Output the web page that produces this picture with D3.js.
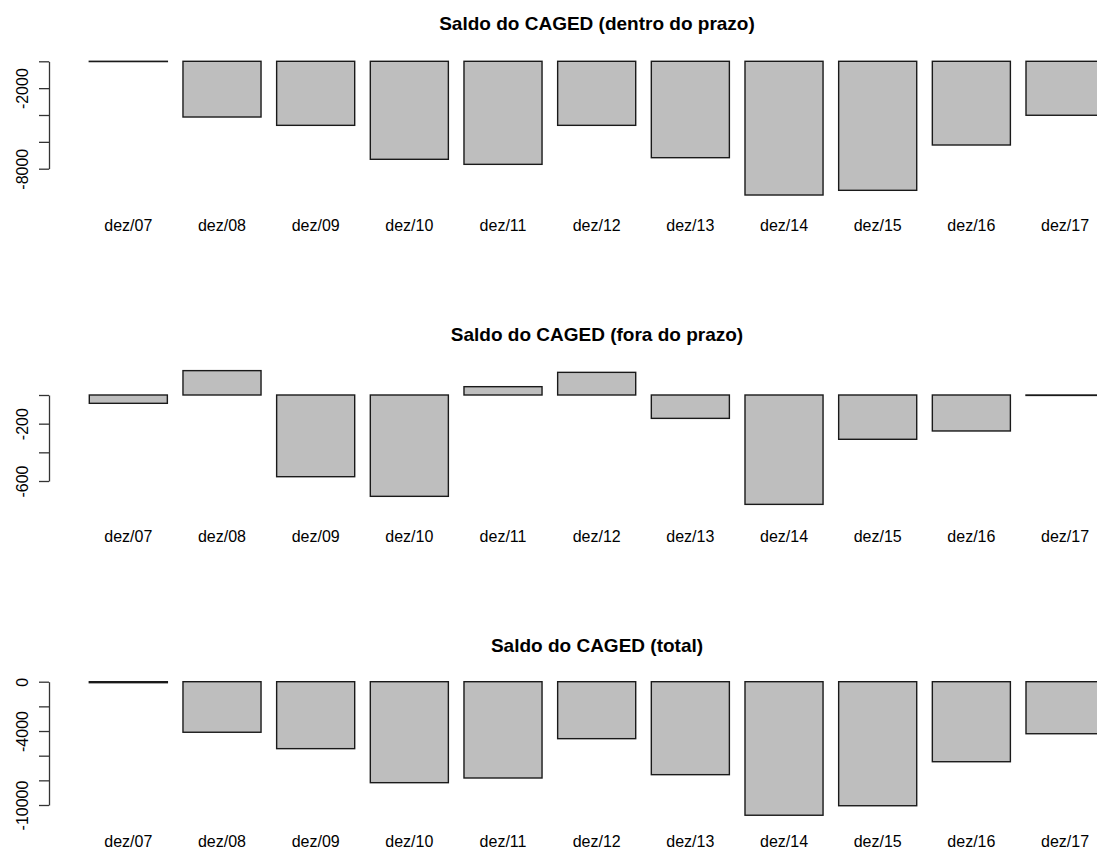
<!DOCTYPE html>
<html lang="pt">
<head>
<meta charset="utf-8">
<title>Saldo do CAGED</title>
<script src="https://cdn.jsdelivr.net/npm/d3@7"></script>
<style>
  body { margin: 0; background: #fff; }
  svg { display: block; font-family: "Liberation Sans", Arial, sans-serif; }
  .bar { fill: #bebebe; stroke: #1a1a1a; stroke-width: 1.4px; }
  .axis path, .axis line { stroke: #333; stroke-width: 1.3px; }
  .axis text { font-size: 16px; fill: #000; }
  .xlab { font-size: 16px; fill: #000; text-anchor: middle; }
  .title { font-size: 19px; font-weight: bold; text-anchor: middle; }
</style>
</head>
<body>
<div id="chart"></div>
<script>
// data
var categories = ["dez/07", "dez/08", "dez/09", "dez/10", "dez/11", "dez/12",
                  "dez/13", "dez/14", "dez/15", "dez/16", "dez/17"];
var dentroPrazo = [-20, -4150, -4770, -7300, -7675, -4770, -7180, -9960, -9610, -6235, -4020];
var foraPrazo = [-58, 170, -570, -707, 58, 158, -163, -763, -309, -251, -3];
var total = [-80, -4100, -5430, -8190, -7810, -4620, -7540, -10830, -10060, -6490, -4220];

var titles = ["Saldo do CAGED (dentro do prazo)", "Saldo do CAGED (fora do prazo)", "Saldo do CAGED (total)"];
var ticks1 = [0, -2000, -4000, -6000, -8000];
var tickLabels1 = ["", "-2000", "", "", "-8000"];
var ticks2 = [0, -200, -400, -600];
var tickLabels2 = ["", "-200", "", "-600"];
var ticks3 = [0, -2000, -4000, -6000, -8000, -10000];
var tickLabels3 = ["0", "", "-4000", "", "", "-10000"];

var width = 1097, height = 851;
var axisX = 49;

// pixel layout of each panel (scale ends, title and label baselines)
var layout = [
  { lo: -8000,  yLo: 168.7, yZero: 61.3,  titleY: 30,  labelY: 231 },
  { lo: -600,   yLo: 481,   yZero: 395,   titleY: 341, labelY: 541.5 },
  { lo: -10000, yLo: 805,   yZero: 681.7, titleY: 652, labelY: 846.5 }
];

var panels = [
  { values: dentroPrazo, ticks: ticks1, labels: tickLabels1 },
  { values: foraPrazo,   ticks: ticks2, labels: tickLabels2 },
  { values: total,       ticks: ticks3, labels: tickLabels3 }
];

var svg = d3.select("#chart").append("svg")
    .attr("width", width)
    .attr("height", height);

// R barplot: width 1, space 0.2 -> step 93.67px, bars start at 89.3
var step = 93.67;
var x = d3.scaleBand()
    .domain(categories)
    .range([89.3 - step / 12, 89.3 - step / 12 + step * categories.length])
    .paddingInner(1 / 6)
    .paddingOuter(1 / 12);

panels.forEach(function(p, i) {
  var L = layout[i];
  var y = d3.scaleLinear().domain([L.lo, 0]).range([L.yLo, L.yZero]);
  var g = svg.append("g");

  g.append("text")
    .attr("class", "title")
    .attr("x", 597)
    .attr("y", L.titleY)
    .text(titles[i]);

  g.selectAll("rect")
    .data(p.values)
    .enter().append("rect")
    .attr("class", "bar")
    .attr("x", function(d, j) { return x(categories[j]); })
    .attr("width", x.bandwidth())
    .attr("y", function(d) { return y(Math.max(0, d)); })
    .attr("height", function(d) { return Math.abs(y(d) - y(0)); });

  g.selectAll(".xlab")
    .data(categories)
    .enter().append("text")
    .attr("class", "xlab")
    .attr("x", function(d) { return x(d) + x.bandwidth() / 2; })
    .attr("y", L.labelY)
    .text(function(d) { return d; });

  var yAxis = d3.axisLeft(y)
    .tickValues(p.ticks)
    .tickSize(10)
    .tickSizeOuter(0)
    .tickFormat(function(d, j) { return p.labels[j]; });

  var ax = g.append("g")
    .attr("class", "axis")
    .attr("transform", "translate(" + axisX + ",0)")
    .call(yAxis);

  ax.selectAll("text")
    .attr("x", null)
    .attr("dy", null)
    .attr("text-anchor", "middle")
    .attr("transform", "translate(-21,0) rotate(-90)");
});
</script>
</body>
</html>
